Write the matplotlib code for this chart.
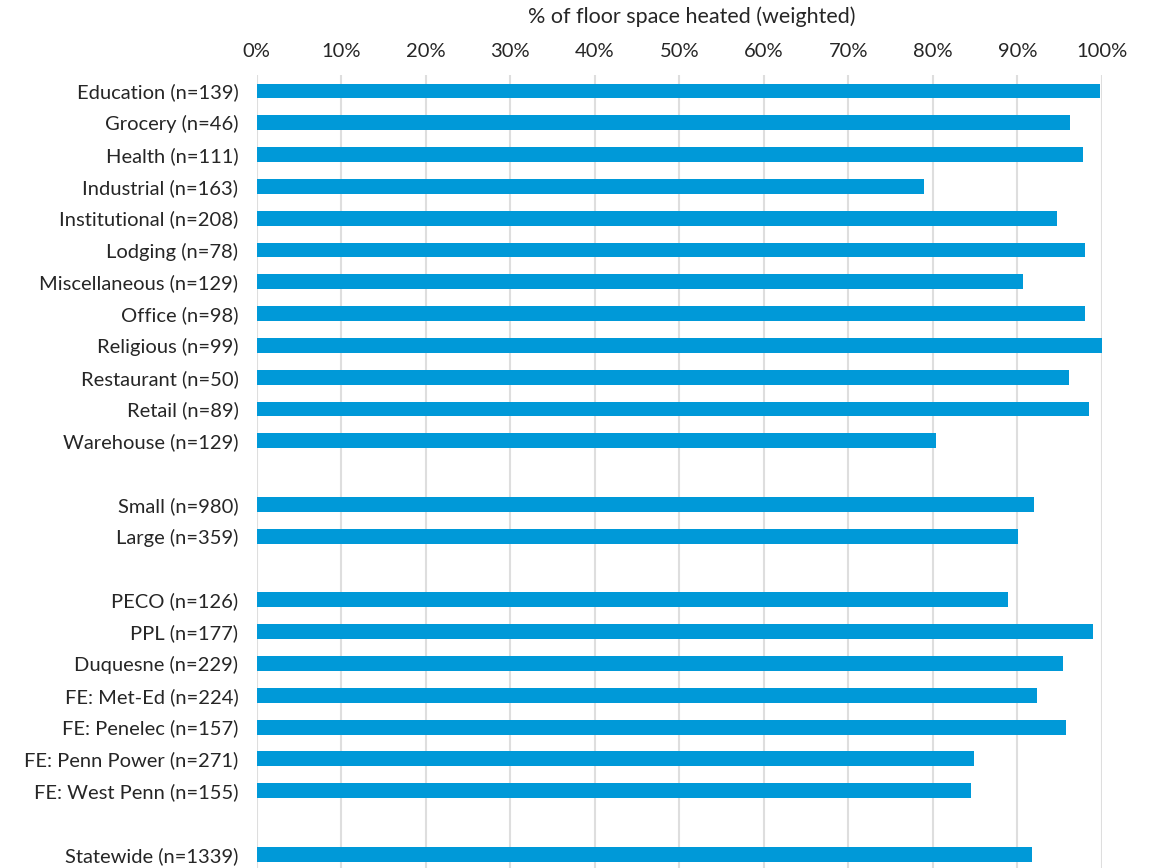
import matplotlib
matplotlib.use("Agg")
import matplotlib.pyplot as plt
import numpy as np

plt.rcParams['font.family'] = ['Lato', 'DejaVu Sans']

# categories, top to bottom; None = blank spacer row
labels = ["Education (n=139)", "Grocery (n=46)", "Health (n=111)", "Industrial (n=163)",
          "Institutional (n=208)", "Lodging (n=78)", "Miscellaneous (n=129)", "Office (n=98)",
          "Religious (n=99)", "Restaurant (n=50)", "Retail (n=89)", "Warehouse (n=129)",
          None,
          "Small (n=980)", "Large (n=359)",
          None,
          "PECO (n=126)", "PPL (n=177)", "Duquesne (n=229)", "FE: Met-Ed (n=224)",
          "FE: Penelec (n=157)", "FE: Penn Power (n=271)", "FE: West Penn (n=155)",
          None,
          "Statewide (n=1339)"]
values = [99.8, 96.2, 97.7, 79.0, 94.7, 98.0, 90.7, 98.0, 100.0, 96.1, 98.5, 80.4,
          None,
          92.0, 90.1,
          None,
          88.9, 98.9, 95.4, 92.3, 95.8, 84.9, 84.5,
          None,
          91.7]
ticks = list(range(0, 101, 10))

fig = plt.figure(figsize=(11.55, 8.68), dpi=100)
ax = fig.add_axes([0.2221, -0.0025, 0.732, 0.916])

pos = [i for i, v in enumerate(values) if v is not None]
vals = [values[i] for i in pos]
ax.barh(pos, vals, height=0.47, color='#0099d8', zorder=3)

ax.set_ylim(len(values) - 0.5, -0.5)
ax.set_xlim(0, 100)
ax.set_yticks(pos)
ax.set_yticklabels([labels[i] for i in pos], fontsize=14.5, color='#262626')

ax.xaxis.tick_top()
ax.set_xticks(ticks)
ax.set_xticklabels([f"{t}%" for t in ticks], fontsize=14.5, color='#262626')
ax.tick_params(length=0)
ax.tick_params(axis='y', pad=13)
ax.tick_params(axis='x', pad=11)

# axis title sits a bit right of the axes centre in the original
fig.text(692 / 1155, 1 - 17 / 868, "% of floor space heated (weighted)",
         fontsize=15.5, color='#262626', ha='center', va='center')

ax.grid(axis='x', color='#dedede', linewidth=1.5, zorder=0)
for s in ax.spines.values():
    s.set_visible(False)

fig.savefig("out.png", dpi=100)
